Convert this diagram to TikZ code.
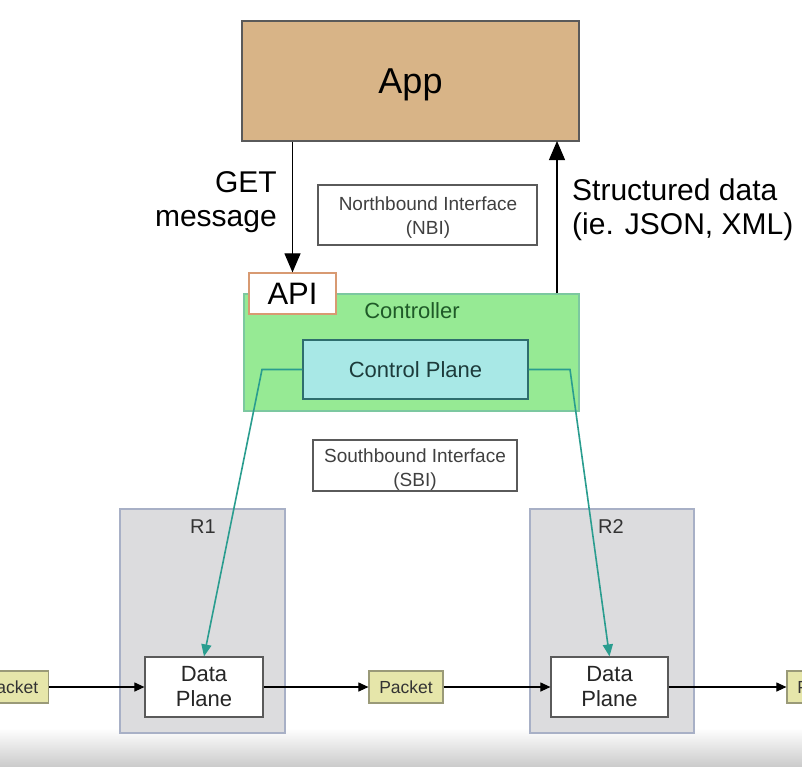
\documentclass[tikz,border=0pt]{standalone}
\usepackage{fontspec}
\setmainfont{Liberation Sans}
\usetikzlibrary{arrows.meta}
\definecolor{appfill}{HTML}{D8B487}
\definecolor{ctrlfill}{HTML}{96EA94}
\definecolor{ctrlline}{HTML}{7CC8A0}
\definecolor{cpfill}{HTML}{A8E8E6}
\definecolor{cpline}{HTML}{2E6E6E}
\definecolor{apiline}{HTML}{D89A72}
\definecolor{tealc}{HTML}{2A9D8F}
\definecolor{rfill}{HTML}{DCDCDE}
\definecolor{rline}{HTML}{A8B0C6}
\definecolor{pkfill}{HTML}{E6E6AA}
\definecolor{pkline}{HTML}{9A9A78}
\definecolor{boxline}{HTML}{5A5A5A}
\definecolor{ctrltext}{HTML}{1F5A28}
\definecolor{cptext}{HTML}{1D3B3B}
\tikzset{
  box/.style={draw=boxline, line width=1.2pt, inner sep=0pt, align=center},
  lbl/.style={box, fill=white},
  lbltext/.style={inner sep=0pt, align=center, text=black!75, font=\fontsize{19}{24}\selectfont},
  router/.style={draw=rline, line width=1.2pt, fill=rfill, inner sep=0pt},
  dplane/.style={box, fill=white, text=black!85, minimum height=60pt, font=\fontsize{22}{25}\selectfont},
  packet/.style={draw=pkline, line width=1.2pt, fill=pkfill, inner sep=0pt, minimum width=74pt, minimum height=32pt, text=black!80, font=\fontsize{17.5}{20}\selectfont},
  flow/.style={line width=1.1pt, -{Triangle[length=10pt,width=9pt]}},
  bigarrow/.style={line width=1.1pt, -{Triangle[length=19pt,width=16pt]}},
  tealarrow/.style={draw=tealc, line width=1.6pt, -{Triangle[length=12pt,width=10pt]}},
}
\begin{document}
\begin{tikzpicture}[x=1pt,y=-1pt]
\useasboundingbox (0,0) rectangle (802,766);
\clip (0,0) rectangle (802,766);
\fill[white] (0,0) rectangle (802,766);
\shade[top color=white, bottom color=black!20] (0,728) rectangle (802,766);

% App
\node[box, fill=appfill, minimum width=337pt, minimum height=120pt, text depth=0pt, font=\fontsize{36}{40}\selectfont] (app) at (410.5,81) {App};

% NBI / SBI labels
\node[lbl, minimum width=219pt, minimum height=60pt] (nbi) at (427.5,215) {};
\node[lbltext] (nbitext) at (428,218) {Northbound Interface\\(NBI)};
\node[lbl, minimum width=204pt, minimum height=51pt] (sbi) at (415,465.5) {};
\node[lbltext] (sbitext) at (415,469.5) {Southbound Interface\\(SBI)};

% Controller
\node[draw=ctrlline, line width=1.2pt, fill=ctrlfill, inner sep=0pt, minimum width=335pt, minimum height=117pt] (ctrl) at (411.5,352.5) {};
\node[text=ctrltext, font=\fontsize{22}{26}\selectfont, inner sep=0pt] (ctrllbl) at (412,311) {Controller};
\node[draw=cpline, line width=1.2pt, fill=cpfill, inner sep=0pt, minimum width=225pt, minimum height=59pt, text=cptext, font=\fontsize{22}{26}\selectfont] (cp) at (415.5,369.5) {Control Plane};
\node[draw=apiline, line width=1.2pt, fill=white, inner sep=0pt, minimum width=87pt, minimum height=41pt, font=\fontsize{31}{34}\selectfont] (api) at (292.5,293.5) {API};

% Side texts
\node[anchor=east, align=right, inner sep=0pt, font=\fontsize{30}{34}\selectfont] (get) at (277,202) {GET\\message};
\node[anchor=west, align=left, inner sep=0pt, font=\fontsize{30}{34}\selectfont] (sd) at (572,210) {Structured data\\(ie. JSON, XML)};

% NBI arrows
\draw[bigarrow] (app.south -| api.north) -- (api.north);
\coordinate (sdtop) at (557,141);
\draw[bigarrow] (ctrl.north -| sdtop) -- (sdtop);

% Routers
\node[router, minimum width=165pt, minimum height=224pt] (r1) at (202.5,621) {};
\node[router, minimum width=164pt, minimum height=224pt] (r2) at (612,621) {};
\node[inner sep=0pt, text=black!80, font=\fontsize{20}{24}\selectfont] (r1lbl) at (203,527) {R1};
\node[inner sep=0pt, text=black!80, font=\fontsize{20}{24}\selectfont] (r2lbl) at (611,527) {R2};

\node[dplane, minimum width=118pt] (dp1) at (204,687) {Data\\Plane};
\node[dplane, minimum width=117pt] (dp2) at (609.5,687) {Data\\Plane};

% Packets
\node[packet] (pk0) at (11.5,687) {Packet};
\node[packet] (pk1) at (406,687) {Packet};
\node[packet] (pk2) at (824,687) {Packet};

\draw[flow] (pk0.east) -- (dp1.west);
\draw[flow] (dp1.east) -- (pk1.west);
\draw[flow] (pk1.east) -- (dp2.west);
\draw[flow] (dp2.east) -- (pk2.west);

% SBI connectors
\coordinate (tl) at (262,369.5);
\coordinate (tr) at (570,369.5);
\draw[tealarrow] (cp.west) -- (tl) -- (dp1.north);
\draw[tealarrow] (cp.east) -- (tr) -- (dp2.north);
\end{tikzpicture}
\end{document}
